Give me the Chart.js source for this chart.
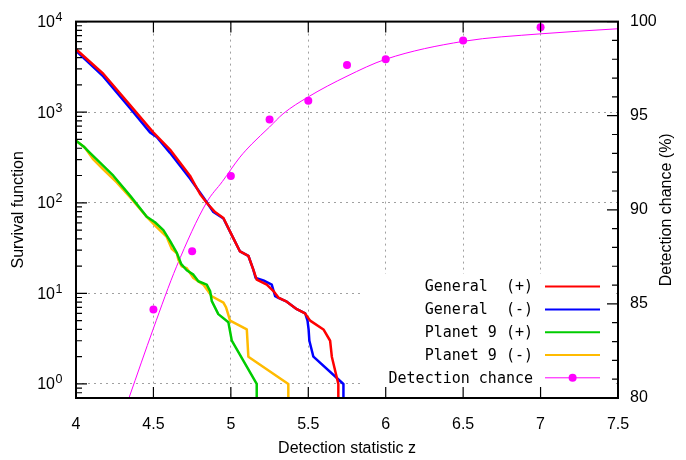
<!DOCTYPE html>
<html>
<head>
<meta charset="utf-8">
<title>Survival function / detection chance</title>
<script src="https://cdn.jsdelivr.net/npm/chart.js@4.4.1/dist/chart.umd.min.js"></script>
<style>
  body { margin: 0; background: #fff; }
  canvas { display: block; }
</style>
</head>
<body>
<canvas id="myChart" width="686" height="460"></canvas>
<script>
// survival function, General (+)
var genPlusZ = [4.0, 4.176, 4.349, 4.499, 4.607, 4.736, 4.801, 4.844, 4.898, 4.952, 5.006, 5.059, 5.113, 5.145, 5.167, 5.232, 5.275, 5.307, 5.361, 5.426, 5.479, 5.512, 5.598, 5.641, 5.652, 5.694, 5.694];
var genPlusN = [4950, 2655, 1198, 599, 387, 199, 125, 100, 79, 68, 44, 29, 26, 18.3, 14.2, 12.5, 10.6, 9, 8.1, 6.7, 6, 5, 4, 3, 2, 1, 0.5];
// General (-)
var genMinusZ = [4.0, 4.176, 4.349, 4.478, 4.521, 4.607, 4.736, 4.822, 4.887, 4.952, 5.006, 5.059, 5.113, 5.145, 5.16, 5.21, 5.264, 5.286, 5.307, 5.361, 5.426, 5.48, 5.495, 5.502, 5.507, 5.533, 5.727, 5.727];
var genMinusN = [4770, 2483, 1104, 599, 532, 356, 185, 115, 79, 67, 44, 29, 26, 18.3, 14.8, 13.9, 12.5, 9.3, 8.9, 8.1, 6.7, 6, 5, 4, 3, 2, 1, 0.5];
// Planet 9 (+)
var p9PlusZ = [4.0, 4.047, 4.09, 4.155, 4.241, 4.349, 4.457, 4.51, 4.564, 4.607, 4.651, 4.68, 4.715, 4.758, 4.79, 4.844, 4.866, 4.877, 4.919, 4.984, 5.006, 5.167, 5.167];
var p9PlusN = [485, 422, 356, 277, 199, 120, 70, 61, 50, 38, 28, 21, 18, 16.1, 13.6, 12.5, 10.6, 8.2, 5.9, 4.8, 3, 1, 0.5];
// Planet 9 (-)
var p9MinusZ = [4.0, 4.058, 4.112, 4.176, 4.263, 4.349, 4.457, 4.521, 4.586, 4.618, 4.651, 4.661, 4.683, 4.715, 4.758, 4.822, 4.877, 4.952, 4.969, 4.995, 5.103, 5.113, 5.371, 5.371];
var p9MinusN = [485, 404, 301, 234, 168, 115, 70, 54, 42, 31, 27.7, 23.5, 19.9, 19, 14.8, 12.5, 9.3, 7.9, 7, 5, 4, 2, 1, 0.5];
// detection chance (%) measured points and fitted curve
var detZ = [4.5, 4.75, 5, 5.25, 5.5, 5.75, 6, 6.5, 7];
var detChance = [84.7, 87.8, 91.8, 94.8, 95.8, 97.7, 98.0, 99.0, 99.7];
var fitZ = [4.342, 4.5, 4.65, 4.844, 4.945, 5.059, 5.136, 5.25, 5.337, 5.5, 5.75, 6, 6.5, 7, 7.5];
var fitChance = [80, 83.7, 87.0, 90.4, 91.5, 92.8, 93.5, 94.4, 95.1, 96.0, 97.1, 98.0, 98.95, 99.35, 99.62];

var xTicks = [4, 4.5, 5, 5.5, 6, 6.5, 7, 7.5];
var yDecades = [0, 1, 2, 3, 4];

var sans = '"Liberation Sans", Arial, sans-serif';
var mono = '"DejaVu Sans Mono", monospace';

function pairs(xs, ys) {
    return xs.map(function (x, i) { return {x: x, y: ys[i]}; });
}

function survival(label, xs, ys, color) {
    return {
        label: label, data: pairs(xs, ys), yAxisID: 'y',
        borderColor: color, backgroundColor: color,
        borderWidth: 2.5, pointRadius: 0, tension: 0, borderJoinStyle: 'round'
    };
}

// gnuplot-like frame: inward ticks, log exponents, opaque key, y2 title
var gnuplotFrame = {
    id: 'gnuplotFrame',
    afterDatasetsDraw: function (chart) {
        var ctx = chart.ctx, a = chart.chartArea;
        ctx.save();
        ctx.fillStyle = '#fff';
        ctx.fillRect(363, 274, a.right - 6 - 363, a.bottom - 274);
        ctx.font = '15px ' + mono;
        ctx.textAlign = 'right';
        ctx.textBaseline = 'middle';
        for (var i = 0; i < 5; i++) {
            var ds = chart.data.datasets[i];
            var ry = 286.6 + i * 22.8;
            ctx.fillStyle = '#000';
            ctx.fillText(ds.label, 533, ry + 1);
            ctx.strokeStyle = ds.borderColor;
            ctx.lineWidth = i < 4 ? 2 : 1;
            ctx.beginPath();
            ctx.moveTo(545, ry);
            ctx.lineTo(600, ry);
            ctx.stroke();
            if (i === 4) {
                ctx.fillStyle = ds.borderColor;
                ctx.beginPath();
                ctx.arc(572.6, ry, 4, 0, Math.PI * 2);
                ctx.fill();
            }
        }
        ctx.restore();
    },
    afterDraw: function (chart) {
        var ctx = chart.ctx, a = chart.chartArea;
        var xs = chart.scales.x, ys = chart.scales.y, y2 = chart.scales.y2;
        var major = 11, minor = 6;
        ctx.save();
        ctx.strokeStyle = '#000';
        ctx.lineWidth = 1.2;
        ctx.beginPath();
        xTicks.forEach(function (v) {
            var px = xs.getPixelForValue(v);
            ctx.moveTo(px, a.bottom); ctx.lineTo(px, a.bottom - major);
            ctx.moveTo(px, a.top); ctx.lineTo(px, a.top + major);
        });
        yDecades.forEach(function (e) {
            var py = ys.getPixelForValue(Math.pow(10, e));
            ctx.moveTo(a.left, py); ctx.lineTo(a.left + major, py);
        });
        for (var e = -1; e < 4; e++) {
            for (var m = 2; m <= 9; m++) {
                var v = m * Math.pow(10, e);
                if (v < 0.7) continue;
                var py = ys.getPixelForValue(v);
                ctx.moveTo(a.left, py); ctx.lineTo(a.left + minor, py);
            }
        }
        for (var k = 80; k <= 100; k++) {
            var py2 = y2.getPixelForValue(k);
            var len = k % 5 === 0 ? major : minor;
            ctx.moveTo(a.right, py2); ctx.lineTo(a.right - len, py2);
        }
        ctx.stroke();

        ctx.lineWidth = 2;
        ctx.strokeRect(a.left, a.top, a.right - a.left, a.bottom - a.top);

        // 10^n labels on the log axis
        ctx.fillStyle = '#000';
        ctx.textBaseline = 'middle';
        yDecades.forEach(function (e) {
            var py = ys.getPixelForValue(Math.pow(10, e));
            ctx.font = '16px ' + sans;
            ctx.textAlign = 'right';
            ctx.fillText('10', 55, py + 1);
            ctx.font = '12.5px ' + sans;
            ctx.textAlign = 'left';
            ctx.fillText(String(e), 55.5, py - 4);
        });

        ctx.font = '16px ' + sans;
        ctx.textAlign = 'center';
        ctx.translate(667, (a.top + a.bottom) / 2);
        ctx.rotate(-Math.PI / 2);
        ctx.fillText('Detection chance (%)', 0, 0);
        ctx.restore();
    }
};

var ctx = document.getElementById('myChart').getContext('2d');
var myChart = new Chart(ctx, {
    type: 'line',
    data: {
        datasets: [
            survival('General  (+)', genPlusZ, genPlusN, '#ff0000'),
            survival('General  (-)', genMinusZ, genMinusN, '#0000ff'),
            survival('Planet 9 (+)', p9PlusZ, p9PlusN, '#00cc00'),
            survival('Planet 9 (-)', p9MinusZ, p9MinusN, '#ffbb00'),
            {
                label: 'Detection chance', data: pairs(fitZ, fitChance), yAxisID: 'y2',
                borderColor: '#ff00ff', borderWidth: 1, pointRadius: 0,
                cubicInterpolationMode: 'monotone'
            },
            {
                label: 'Detection chance', data: pairs(detZ, detChance), yAxisID: 'y2',
                showLine: false, pointRadius: 4, pointBorderWidth: 0,
                pointBackgroundColor: '#ff00ff', borderColor: '#ff00ff'
            }
        ]
    },
    options: {
        responsive: false,
        animation: false,
        devicePixelRatio: 1,
        layout: { padding: { top: 17, left: 0, right: 0, bottom: 0 } },
        plugins: { legend: { display: false }, tooltip: { enabled: false } },
        scales: {
            x: {
                type: 'linear', min: 4, max: 7.5,
                afterBuildTicks: function (s) {
                    s.ticks = xTicks.map(function (v) { return {value: v}; });
                },
                afterFit: function (s) { s.height = 62; },
                ticks: {
                    padding: 17, color: '#000', font: { family: sans, size: 16 },
                    callback: function (v) { return String(v); }
                },
                grid: {
                    drawTicks: false, lineWidth: 1,
                    color: function (c) {
                        return (c.tick && (c.tick.value === 4 || c.tick.value === 7.5)) ? 'rgba(0,0,0,0)' : '#a0a0a0';
                    }
                },
                border: { display: false, dash: [2, 4] },
                title: {
                    display: true, text: 'Detection statistic z', color: '#000',
                    font: { family: sans, size: 16 }, padding: { top: 0, bottom: 1.5 }
                }
            },
            y: {
                type: 'logarithmic', min: 0.7, max: 10000, position: 'left',
                afterBuildTicks: function (s) {
                    s.ticks = yDecades.map(function (e) { return {value: Math.pow(10, e)}; });
                },
                afterFit: function (s) { s.width = 76; },
                ticks: { display: false },
                grid: { drawTicks: false, lineWidth: 1, color: '#a0a0a0' },
                border: { display: false, dash: [2, 4] },
                title: {
                    display: true, text: 'Survival function', color: '#000',
                    font: { family: sans, size: 16 }, padding: { top: 9, bottom: 0 }
                }
            },
            y2: {
                type: 'linear', min: 80, max: 100, position: 'right',
                afterFit: function (s) { s.width = 68; },
                ticks: { stepSize: 5, padding: 12, color: '#000', font: { family: sans, size: 16 } },
                grid: { display: false, drawTicks: false },
                border: { display: false }
            }
        }
    },
    plugins: [gnuplotFrame]
});
</script>
</body>
</html>
